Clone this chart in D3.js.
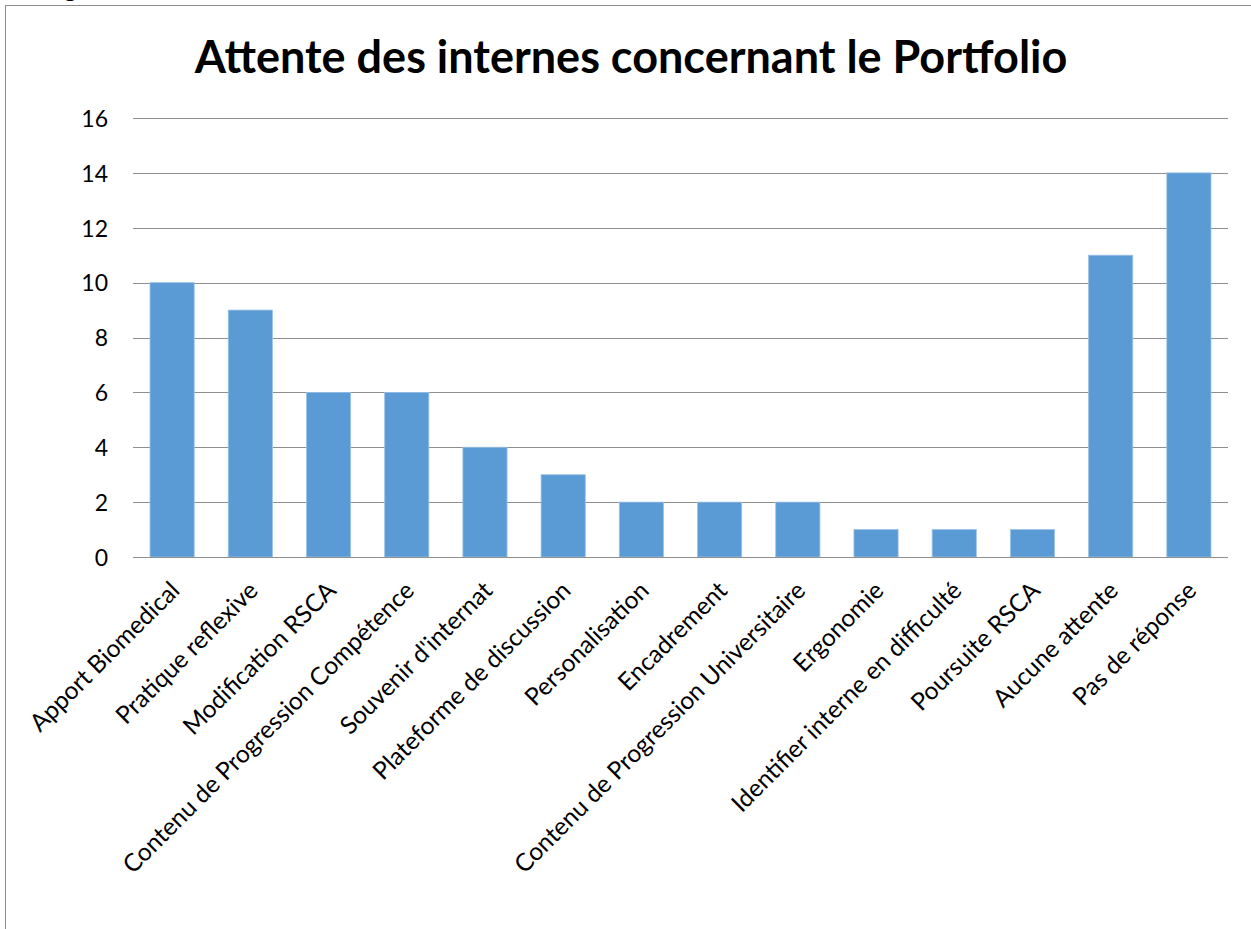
<!DOCTYPE html>
<meta charset="utf-8">
<style>

body {
  margin: 0;
  background: #fff;
}

text {
  font-family: Lato, "Open Sans", sans-serif;
  fill: #000;
}

</style>
<svg></svg>
<script src="https://cdn.jsdelivr.net/npm/d3@7"></script>
<script>

var categories = [
  "Apport Biomedical",
  "Pratique reflexive",
  "Modification RSCA",
  "Contenu de Progression Compétence",
  "Souvenir d'internat",
  "Plateforme de discussion",
  "Personalisation",
  "Encadrement",
  "Contenu de Progression Universitaire",
  "Ergonomie",
  "Identifier interne en difficulté",
  "Poursuite RSCA",
  "Aucune attente",
  "Pas de réponse"
];

var counts = [10, 9, 6, 6, 4, 3, 2, 2, 2, 1, 1, 1, 11, 14];

var yTicks = [0, 2, 4, 6, 8, 10, 12, 14, 16];

var title = "Attente des internes concernant le Portfolio";

var width = 1251,
    height = 929;

var plot = {left: 133, right: 1228, top: 118, bottom: 557};

var svg = d3.select("svg")
    .attr("width", width)
    .attr("height", height);

// frame of the chart area, runs off the right and bottom of the page
svg.append("rect")
    .attr("x", 5.5)
    .attr("y", 5.5)
    .attr("width", 1300)
    .attr("height", 1000)
    .attr("fill", "#fff")
    .attr("stroke", "#8c8c8c");

// bit of a caption cut off at the top of the picture
svg.append("text")
    .attr("x", 64)
    .attr("y", -3)
    .attr("font-size", 24)
    .attr("font-weight", "bold")
    .text("g");

var x = d3.scaleBand()
    .domain(categories)
    .range([plot.left, plot.right])
    .paddingInner(0.435)
    .paddingOuter(0.2175);

var y = d3.scaleLinear()
    .domain([0, 16])
    .range([plot.bottom, plot.top]);

// horizontal gridlines
svg.append("g")
  .selectAll("line")
  .data(yTicks)
  .enter().append("line")
    .attr("x1", plot.left)
    .attr("x2", plot.right)
    .attr("y1", function(d) { return Math.round(y(d)) + 0.5; })
    .attr("y2", function(d) { return Math.round(y(d)) + 0.5; })
    .attr("stroke", "#8f8f8f")
    .attr("stroke-width", 1);

var yAxis = svg.append("g")
    .attr("transform", "translate(" + plot.left + ",0)")
    .call(d3.axisLeft(y).tickValues(yTicks).tickSize(0).tickPadding(25).tickFormat(d3.format("d")));

yAxis.select(".domain").remove();
yAxis.selectAll("text")
    .attr("font-size", 23)
    .style("font-family", "Lato, 'Open Sans', sans-serif")
    .attr("dy", "0.36em");

svg.append("g")
  .selectAll("rect")
  .data(counts)
  .enter().append("rect")
    .attr("x", function(d, i) { return x(categories[i]); })
    .attr("y", function(d) { return y(d); })
    .attr("width", x.bandwidth())
    .attr("height", function(d) { return y(0) - y(d); })
    .attr("fill", "#5b9bd5")
    .attr("stroke", "#9cc3e8")
    .attr("stroke-width", 0.8);

// category axis line
svg.append("line")
    .attr("x1", plot.left)
    .attr("x2", plot.right)
    .attr("y1", Math.round(y(0)) + 0.5)
    .attr("y2", Math.round(y(0)) + 0.5)
    .attr("stroke", "#8f8f8f");

svg.append("g")
  .selectAll("text")
  .data(categories)
  .enter().append("text")
    .attr("transform", function(d) {
      var cx = x(d) + x.bandwidth() / 2 + 9;
      return "translate(" + cx + "," + (plot.bottom + 35) + ") rotate(-45)";
    })
    .attr("text-anchor", "end")
    .attr("font-size", 24.5)
    .text(function(d) { return d; });

svg.append("text")
    .attr("x", 631)
    .attr("y", 73)
    .attr("text-anchor", "middle")
    .attr("font-size", 45)
    .attr("font-weight", "bold")
    .text(title);

</script>
